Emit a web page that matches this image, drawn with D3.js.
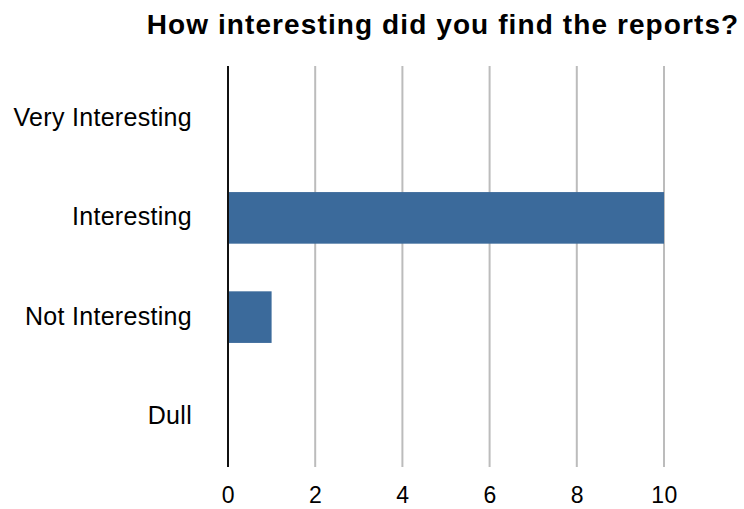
<!DOCTYPE html>
<html><head><meta charset="utf-8">
<script src="https://cdn.jsdelivr.net/npm/d3@7"></script>
<style>body{margin:0;background:#fff}svg{display:block}text{font-family:"Liberation Sans",Arial,Helvetica,sans-serif;fill:#000}</style>
</head><body>
<svg id="c" width="744" height="509"></svg>
<script>
const title = "How interesting did you find the reports?";
const categories = ["Very Interesting", "Interesting", "Not Interesting", "Dull"];
const values = [0, 10, 1, 0];
const tickValues = [0, 2, 4, 6, 8, 10];

const svg = d3.select("#c");
const x = d3.scaleLinear().domain([0, 10]).range([228, 664]);
const y = d3.scaleBand().domain(categories).range([69, 466]).paddingInner(0.48).paddingOuter(0.24);

// gridlines
svg.append("g").selectAll("line").data(tickValues).join("line")
  .attr("x1", d => x(d)).attr("x2", d => x(d))
  .attr("y1", 66).attr("y2", 467)
  .attr("stroke", "#bcbcbc").attr("stroke-width", 2);

// bars
svg.append("g").selectAll("rect").data(categories).join("rect")
  .attr("x", x(0)).attr("y", d => y(d))
  .attr("width", (d, i) => x(values[i]) - x(0))
  .attr("height", y.bandwidth())
  .attr("fill", "#3b6a9b");

// axis line
svg.append("line").attr("x1", x(0)).attr("x2", x(0)).attr("y1", 66).attr("y2", 467)
  .attr("stroke", "#111").attr("stroke-width", 2);

// x tick labels via axis
const xa = svg.append("g").attr("transform", "translate(0,482)")
  .call(d3.axisBottom(x).tickValues(tickValues).tickSize(0).tickPadding(0).tickFormat(d3.format("d")));
xa.select(".domain").remove();
xa.selectAll("text").attr("font-size", 23).attr("dy", "0.93em").style("font-family", "Liberation Sans, Arial, sans-serif").style("letter-spacing", "0.5px").attr("fill", "#000");

// y labels via axis
const ya = svg.append("g").attr("transform", "translate(192,0)")
  .call(d3.axisLeft(y).tickSize(0).tickPadding(0));
ya.select(".domain").remove();
ya.selectAll("text").attr("font-size", 25).attr("dy", "0.3em").style("font-family", "Liberation Sans, Arial, sans-serif").style("letter-spacing", "0.3px").attr("fill", "#000");

// title
svg.append("text").attr("x", 443).attr("y", 34).attr("text-anchor", "middle")
  .attr("font-size", 28).attr("font-weight", "bold").style("letter-spacing", "1.1px").text(title);
</script>
</body></html>
